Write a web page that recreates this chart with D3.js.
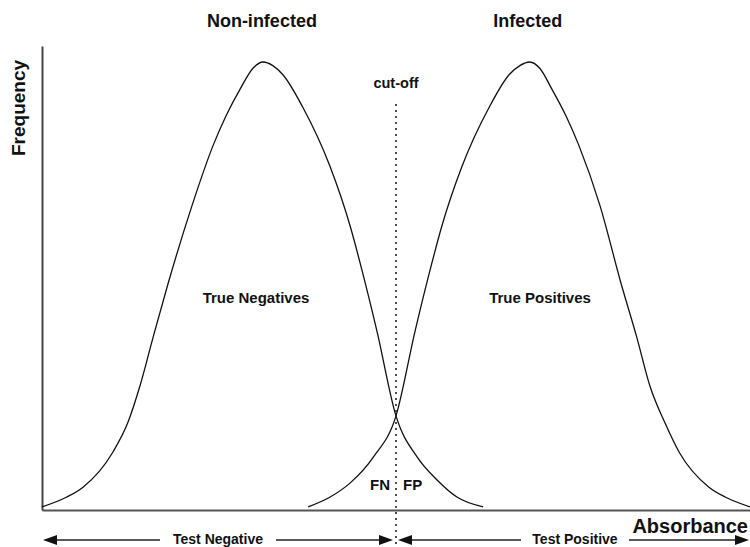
<!DOCTYPE html>
<html>
<head>
<meta charset="utf-8">
<script src="https://cdn.jsdelivr.net/npm/d3@7"></script>
<style>
  html, body { margin: 0; padding: 0; background: #fff; }
  svg { display: block; }
  text { font-family: "Liberation Sans", Arial, Helvetica, sans-serif; font-weight: bold; fill: #111; }
</style>
</head>
<body>
<svg id="chart" width="750" height="547"></svg>
<script>
// Absorbance (0–100) and relative frequency (0–100) for each population
const nonInfectedAbs  = [0, 3.5, 5.8, 10.0, 12.1, 13.8, 15.7, 17.8, 21.2, 24.2, 26.0, 28.0, 29.8, 31.2, 32.6, 34.0, 36.8, 40.7, 43.5, 45.2, 47.3, 50.0, 53.0, 55.8, 58.6, 62.3];
const nonInfectedFreq = [0.7, 2.9, 5.1, 12.9, 19.4, 27.5, 38.6, 50.5, 68.0, 81.5, 88.0, 94.0, 98.6, 100, 99.2, 97.2, 90.0, 76.6, 63.5, 53.5, 40.0, 21.0, 11.8, 6.7, 2.9, 0.7];

const infectedAbs  = [37.6, 40.7, 43.5, 46.8, 50.0, 52.7, 54.8, 56.5, 59.3, 63.2, 66.0, 67.5, 68.9, 70.3, 72.0, 74.0, 75.8, 78.8, 81.8, 84.0, 85.9, 88.0, 90.0, 94.2, 96.5, 100];
const infectedFreq = [0.7, 2.9, 6.0, 11.8, 21.0, 40.0, 53.5, 63.5, 76.6, 90.0, 97.2, 99.2, 100, 98.6, 94.0, 88.0, 81.5, 68.0, 50.5, 38.6, 27.5, 19.4, 12.9, 5.1, 2.9, 0.7];

const cutoff = 50;

const populationTitles = ["Non-infected", "Infected"];
const regionLabels = ["True Negatives", "True Positives"];
const overlapLabels = ["FN", "FP"];
const testLabels = ["Test Negative", "Test Positive"];

const svg = d3.select("#chart");

const x = d3.scaleLinear().domain([0, 100]).range([42, 750]);
const y = d3.scaleLinear().domain([0, 100]).range([510, 62]);

// axes (no ticks)
svg.append("g")
  .attr("transform", `translate(0,${y(0)})`)
  .call(d3.axisBottom(x).ticks(0).tickSize(0))
  .call(g => g.select(".domain").attr("stroke", "#555").attr("stroke-width", 2));
svg.append("g")
  .attr("transform", `translate(${x(0)},0)`)
  .call(d3.axisLeft(d3.scaleLinear().domain([0, 1]).range([510, 46])).ticks(0).tickSize(0))
  .call(g => g.select(".domain").attr("stroke", "#444").attr("stroke-width", 2));

// distribution curves
const line = d3.line()
  .x(d => x(d[0]))
  .y(d => y(d[1]))
  .curve(d3.curveMonotoneX);

const curves = [
  d3.zip(nonInfectedAbs, nonInfectedFreq),
  d3.zip(infectedAbs, infectedFreq)
];
svg.selectAll("path.curve")
  .data(curves)
  .join("path")
  .attr("class", "curve")
  .attr("fill", "none")
  .attr("stroke", "#111")
  .attr("stroke-width", 1.3)
  .attr("d", line);

// cut-off line
svg.append("line")
  .attr("x1", x(cutoff)).attr("x2", x(cutoff))
  .attr("y1", 104).attr("y2", 547)
  .attr("stroke", "#222")
  .attr("stroke-width", 1.6)
  .attr("stroke-dasharray", "2,4");

svg.append("text")
  .attr("x", x(cutoff)).attr("y", 88)
  .attr("text-anchor", "middle")
  .style("font-size", "14.5px")
  .text("cut-off");

// population titles above peaks
const peakAbs = [nonInfectedAbs[nonInfectedFreq.indexOf(100)], infectedAbs[infectedFreq.indexOf(100)]];
svg.selectAll("text.title")
  .data(populationTitles)
  .join("text")
  .attr("class", "title")
  .attr("x", (d, i) => x(peakAbs[i]) + (i === 0 ? -1 : -2))
  .attr("y", 27)
  .attr("text-anchor", "middle")
  .style("font-size", "18px")
  .text(d => d);

// region labels
svg.selectAll("text.region")
  .data(regionLabels)
  .join("text")
  .attr("class", "region")
  .attr("x", (d, i) => i === 0 ? 256 : 540)
  .attr("y", 303)
  .attr("text-anchor", "middle")
  .style("font-size", "15px")
  .text(d => d);

svg.selectAll("text.overlap")
  .data(overlapLabels)
  .join("text")
  .attr("class", "overlap")
  .attr("x", (d, i) => x(cutoff) + (i === 0 ? -6 : 7))
  .attr("y", 490)
  .attr("text-anchor", (d, i) => i === 0 ? "end" : "start")
  .style("font-size", "15px")
  .text(d => d);

// axis titles
svg.append("text")
  .attr("transform", "translate(25,108) rotate(-90)")
  .attr("text-anchor", "middle")
  .style("font-size", "19px")
  .text("Frequency");

svg.append("text")
  .attr("x", 748).attr("y", 533)
  .attr("text-anchor", "end")
  .style("font-size", "20px")
  .text("Absorbance");

// test result arrows
const arrowY = 540;
function arrowHead(tipX, dir) {
  const len = 14, half = 5;
  svg.append("path")
    .attr("d", `M${tipX},${arrowY} L${tipX - dir * len},${arrowY - half} L${tipX - dir * len},${arrowY + half} Z`)
    .attr("fill", "#111");
}
function hline(x1, x2) {
  svg.append("line")
    .attr("x1", x1).attr("x2", x2)
    .attr("y1", arrowY).attr("y2", arrowY)
    .attr("stroke", "#222").attr("stroke-width", 1.3);
}

// Test Negative: from x(0) to the cut-off
hline(x(0) + 10, 160); hline(276, x(cutoff) - 8);
arrowHead(x(0) + 1, -1);
arrowHead(x(cutoff) - 3, 1);
svg.append("text").attr("x", 218).attr("y", 544).attr("text-anchor", "middle")
  .style("font-size", "14px").text(testLabels[0]);

// Test Positive: from the cut-off to x(100)
hline(x(cutoff) + 8, 521); hline(629, x(100) - 10);
arrowHead(x(cutoff) + 2, -1);
arrowHead(x(100) - 1, 1);
svg.append("text").attr("x", 575).attr("y", 544).attr("text-anchor", "middle")
  .style("font-size", "14px").text(testLabels[1]);
</script>
</body>
</html>
